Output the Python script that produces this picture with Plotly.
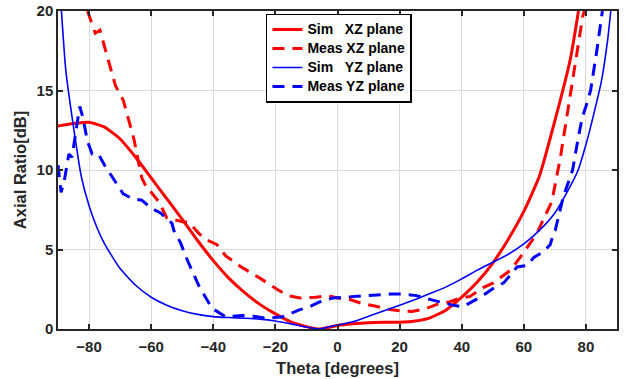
import plotly.graph_objects as go

# ---- data ----
sim_xz_theta = [-90, -85, -80, -75, -70, -65, -60, -55, -50, -45, -40, -35, -30, -25, -20, -15, -10, -6,
                -3, 0, 5, 10, 15, 20, 25, 30, 35, 40, 45, 50, 55, 60, 65, 70, 75, 77.6]
sim_xz_ar = [12.77, 12.92, 13.0, 12.7, 11.95, 10.8, 9.5, 8.2, 6.9, 5.55, 4.3, 3.2, 2.3, 1.55, 0.95, 0.45, 0.15, 0.0,
             0.1, 0.22, 0.33, 0.4, 0.42, 0.42, 0.5, 0.72, 1.2, 2.0, 2.95, 4.15, 5.65, 7.4, 9.6, 13.1, 17.0, 20.0]

meas_xz_theta = [-80.5, -78, -76.5, -74, -71.5, -69, -65.5, -64, -63, -61, -60, -57.5, -55, -50, -47.8, -44.6, -42,
                 -38.8, -36, -31, -27.5, -25, -19.5, -16, -12, -7, -3, 0, 4, 8, 12, 16, 20, 24, 28, 32, 36, 39.5,
                 42.7, 46.9, 50.2, 53.5, 55.7, 58.8, 61.4, 64.2, 66.3, 69, 71.7, 75.7, 79, 79.5]
meas_xz_ar = [20.0, 18.6, 18.8, 17.0, 15.3, 14.4, 11.9, 10.4, 9.5, 8.7, 8.6, 8.0, 7.0, 6.75, 6.7, 6.0, 5.6,
              5.3, 4.6, 3.9, 3.5, 3.2, 2.5, 2.1, 1.95, 2.0, 2.1, 1.95, 1.85, 1.6, 1.45, 1.25, 1.15, 1.1, 1.25, 1.55, 1.7, 1.95,
              2.05, 2.6, 2.9, 3.4, 3.7, 4.5, 5.2, 6.0, 6.9, 8.0, 10.7, 15.7, 19.7, 20.0]

sim_yz_theta = [-88.9, -87.5, -85, -82.5, -80, -77.5, -75, -70, -65, -60, -55, -50, -45, -40, -35, -30, -25, -20,
                -15, -10, -6, -3, 0, 5, 10, 15, 20, 25, 30, 35, 40, 45, 50, 55, 60, 65, 70, 75, 77.5, 80, 82.5,
                85, 87, 88]
sim_yz_ar = [20.0, 16.3, 12.7, 9.6, 7.75, 6.4, 5.35, 3.8, 2.75, 2.0, 1.5, 1.15, 0.92, 0.78, 0.72, 0.68, 0.62, 0.5,
             0.32, 0.12, 0.0, 0.12, 0.25, 0.45, 0.8, 1.15, 1.5, 1.85, 2.25, 2.65, 3.15, 3.7, 4.2, 4.7, 5.35, 6.2, 7.3, 9.0, 10.0,
             11.6, 13.5, 15.6, 18.2, 20.0]

meas_yz_theta = [-90, -89, -88, -86.5, -85.5, -84, -83, -82, -80.5, -79, -77, -75, -72, -69, -66, -63, -60, -57, -53.3,
                 -52.7, -50.5, -48.5, -44.6, -40.4, -36, -30.7, -27, -23, -17.7, -12.3, -9, -5.8, -1.6, 2, 7, 12, 17,
                 21, 25.4, 30, 33, 37, 40.4, 43, 46, 50.2, 53.5, 55.7, 57.8, 61, 63.2, 65.8, 68.5, 69.5, 70.1, 72.7,
                 75.7, 77.5, 78.8, 80, 81.5, 83.5, 85.3]
meas_yz_ar = [10.3, 8.6, 9.3, 11.0, 10.8, 12.6, 14.0, 13.3, 11.8, 11.0, 11.0, 10.3, 9.4, 8.5, 8.2, 8.1, 7.6, 7.3, 6.65,
              6.2, 5.4, 4.4, 2.7, 1.3, 0.77, 0.85, 0.8, 0.68, 0.77, 1.2, 1.4, 1.7, 1.95, 2.0, 2.07, 2.1, 2.2,
              2.2, 2.1, 1.85, 1.7, 1.5, 1.4, 1.7, 2.0, 2.56, 2.9, 3.4, 3.9, 4.0, 4.5, 4.8, 5.3, 6.0, 6.2, 8.3,
              10.0, 12.0, 13.3, 14.0, 15.0, 17.5, 20.0]

x_ticks = [-80, -60, -40, -20, 0, 20, 40, 60, 80]
y_ticks = [0, 5, 10, 15, 20]

RED = "#FF0000"
BLUE = "#0000FF"
DARK = "#262626"
FONT = "Liberation Sans, Arial, sans-serif"
NB = "\u00a0"


def leg(txt):
    return '<span style="font-size:14px">' + txt + "</span>"


fig = go.Figure()
fig.add_trace(go.Scatter(x=sim_xz_theta, y=sim_xz_ar, mode="lines", name=leg("Sim" + NB * 3 + "XZ plane"),
                         line=dict(color=RED, width=3, shape="spline", smoothing=0.5)))
fig.add_trace(go.Scatter(x=meas_xz_theta, y=meas_xz_ar, mode="lines", name=leg("Meas XZ plane"),
                         line=dict(color=RED, width=3, dash="12px,8px")))
fig.add_trace(go.Scatter(x=sim_yz_theta, y=sim_yz_ar, mode="lines", name=leg("Sim" + NB * 3 + "YZ plane"),
                         line=dict(color=BLUE, width=1.6, shape="spline", smoothing=0.5)))
fig.add_trace(go.Scatter(x=meas_yz_theta, y=meas_yz_ar, mode="lines", name=leg("Meas YZ plane"),
                         line=dict(color=BLUE, width=3, dash="12px,8px")))

axis_common = dict(
    showline=True, mirror="ticks", linecolor=DARK, linewidth=1.5,
    ticks="inside", ticklen=5, tickcolor=DARK, tickwidth=1.5,
    showgrid=True, gridcolor="#dadada", gridwidth=1.2,
    zeroline=False, automargin=False,
    tickfont=dict(family=FONT, size=15, color=DARK, weight="bold"),
)

fig.update_xaxes(range=[-90, 90], tickvals=x_ticks, ticklabelstandoff=3, **axis_common,
                 title=dict(text="Theta [degrees]", font=dict(family=FONT, size=16.5, color=DARK, weight="bold"),
                            standoff=9))
fig.update_yaxes(range=[0, 20], tickvals=y_ticks, **axis_common,
                 title=dict(text="Axial Ratio[dB]", font=dict(family=FONT, size=16.5, color=DARK, weight="bold"),
                            standoff=6))

fig.update_layout(
    width=625, height=379,
    margin=dict(l=58, r=8, t=11, b=50),
    paper_bgcolor="white", plot_bgcolor="white",
    showlegend=True,
    legend=dict(x=0.372, y=0.992, xanchor="left", yanchor="top",
                bgcolor="white", bordercolor="#000000", borderwidth=1.5,
                font=dict(family=FONT, size=12, color="#000000", weight="bold"),
                tracegroupgap=0, itemwidth=30),
)

fig.write_html("out.html")
